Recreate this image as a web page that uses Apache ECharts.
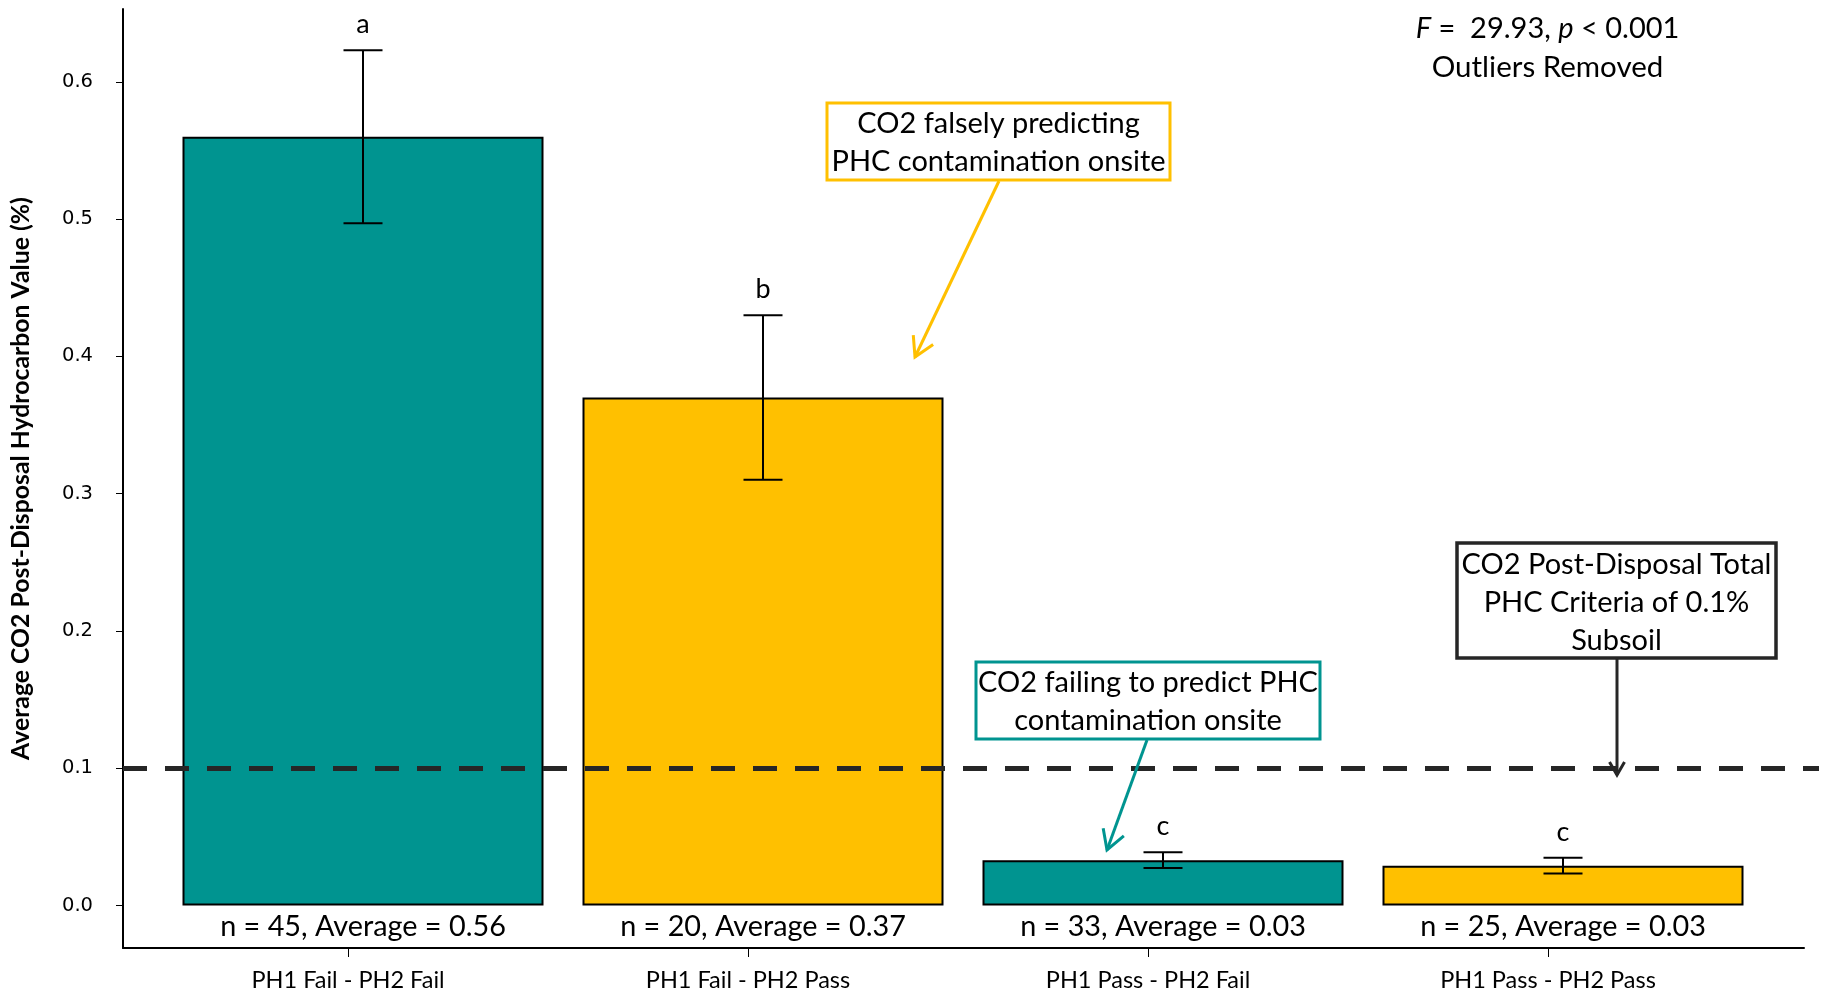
<!DOCTYPE html>
<html>
<head>
<meta charset="utf-8">
<script src="https://cdn.jsdelivr.net/npm/echarts@6/dist/echarts.min.js"></script>
<style>
  html, body { margin: 0; padding: 0; background: #fff; }
  #chart { width: 1831px; height: 995px; }
</style>
</head>
<body>
<div id="chart"></div>
<script>
// ---- Data ----
const categories = ['PH1 Fail - PH2 Fail', 'PH1 Fail - PH2 Pass', 'PH1 Pass - PH2 Fail', 'PH1 Pass - PH2 Pass'];
const means = [0.56, 0.37, 0.033, 0.029];
const errors = [0.063, 0.06, 0.0058, 0.0058];
const nCounts = [45, 20, 33, 25];
const letters = ['a', 'b', 'c', 'c'];
const barColors = ['#009490', '#FFC000', '#009490', '#FFC000'];
const threshold = 0.1;
const yTicks = [0, 0.1, 0.2, 0.3, 0.4, 0.5, 0.6];
const yMin = -0.031;
const yMax = 0.653;

const FONT = 'Lato, "Open Sans", sans-serif';
const chart = echarts.init(document.getElementById('chart'), null, { renderer: 'canvas' });

function arrow(x1, y1, x2, y2, color, width, headLen) {
  const dx = x1 - x2, dy = y1 - y2;
  const len = Math.sqrt(dx * dx + dy * dy);
  const ux = dx / len, uy = dy / len;
  const a = Math.PI / 6;
  const p1 = [x2 + headLen * (ux * Math.cos(a) - uy * Math.sin(a)), y2 + headLen * (ux * Math.sin(a) + uy * Math.cos(a))];
  const p2 = [x2 + headLen * (ux * Math.cos(-a) - uy * Math.sin(-a)), y2 + headLen * (ux * Math.sin(-a) + uy * Math.cos(-a))];
  return [
    { type: 'line', shape: { x1: x1, y1: y1, x2: x2, y2: y2 }, style: { stroke: color, lineWidth: width } },
    { type: 'polyline', shape: { points: [p1, [x2, y2], p2] }, style: { stroke: color, lineWidth: width, fill: null } }
  ];
}

const yHidden = (gi) => ({ gridIndex: gi, type: 'value', min: yMin, max: yMax, show: false });

const option = {
  backgroundColor: '#fff',
  animation: false,
  grid: [
    { left: 123, right: 27, top: 9, bottom: 47 },
    { left: 148, width: 1600, top: 9, bottom: 47 },
    { left: 163, width: 1600, top: 9, bottom: 47 },
    { left: 123, right: 12, top: 9, bottom: 47 }
  ],
  xAxis: [
    { gridIndex: 0, type: 'value', min: 0, max: 1,
      axisLine: { show: true, onZero: false, lineStyle: { color: '#000', width: 2 } },
      axisTick: { show: false }, axisLabel: { show: false }, splitLine: { show: false } },
    { gridIndex: 1, type: 'category', data: categories,
      axisLine: { show: false, onZero: false },
      axisTick: { show: true, alignWithLabel: true, length: 9, lineStyle: { color: '#000', width: 1 } },
      axisLabel: { fontFamily: FONT, fontSize: 23.5, color: '#000', margin: 20 },
      splitLine: { show: false } },
    { gridIndex: 2, type: 'category', data: categories, show: false },
    { gridIndex: 3, type: 'value', min: 0, max: 1, show: false }
  ],
  yAxis: [
    { gridIndex: 0, type: 'value', min: yMin, max: yMax,
      name: 'Average CO2 Post-Disposal Hydrocarbon Value (%)',
      nameLocation: 'middle', nameRotate: 90, nameGap: 89,
      nameTextStyle: { fontFamily: FONT, fontWeight: 'bold', fontSize: 24.8, color: '#000' },
      axisLine: { show: true, onZero: false, lineStyle: { color: '#000', width: 2 } },
      axisTick: { show: true, length: 7, customValues: yTicks, lineStyle: { color: '#000', width: 1 } },
      axisLabel: { customValues: yTicks, formatter: (v) => v.toFixed(1), fontFamily: '"DejaVu Sans", sans-serif', fontSize: 19.5, color: '#000', margin: 30 },
      splitLine: { show: false } },
    yHidden(1), yHidden(2), yHidden(3)
  ],
  series: [
    {
      type: 'bar', xAxisIndex: 2, yAxisIndex: 2, barWidth: 361, silent: true,
      data: means.map((v, i) => ({ value: v, itemStyle: { color: barColors[i] } })),
      itemStyle: { borderColor: '#000', borderWidth: 2 },
      label: {
        show: true, position: 'bottom', distance: 7,
        formatter: (p) => 'n = ' + nCounts[p.dataIndex] + ', Average = ' + p.value.toFixed(2),
        fontFamily: FONT, fontSize: 28.8, color: '#000'
      },
      z: 2
    },
    {
      type: 'custom', xAxisIndex: 2, yAxisIndex: 2, silent: true, z: 5,
      data: means.map((m, i) => [i, m - errors[i], m + errors[i]]),
      renderItem: function (params, api) {
        const lo = api.coord([api.value(0), api.value(1)]);
        const hi = api.coord([api.value(0), api.value(2)]);
        const cw = 19.5;
        const st = { stroke: '#000', lineWidth: 2 };
        return {
          type: 'group',
          children: [
            { type: 'line', shape: { x1: hi[0], y1: hi[1], x2: lo[0], y2: lo[1] }, style: st },
            { type: 'line', shape: { x1: hi[0] - cw, y1: hi[1], x2: hi[0] + cw, y2: hi[1] }, style: st },
            { type: 'line', shape: { x1: lo[0] - cw, y1: lo[1], x2: lo[0] + cw, y2: lo[1] }, style: st },
            { type: 'text', style: { text: letters[params.dataIndex], x: hi[0], y: hi[1] - 12,
              align: 'center', verticalAlign: 'bottom', font: '27px ' + FONT, fill: '#000' } }
          ]
        };
      }
    },
    {
      type: 'line', xAxisIndex: 3, yAxisIndex: 3, data: [], silent: true, z: 10,
      markLine: {
        silent: true, symbol: ['none', 'none'], label: { show: false },
        lineStyle: { type: [24, 18], color: '#262626', width: 5 },
        data: [{ yAxis: threshold }]
      }
    }
  ],
  graphic: [].concat(
    [
      { type: 'text', x: 1547.5, y: 29, z: 20,
        style: { text: '{i|F} =  29.93, {i|p} < 0.001', align: 'center', verticalAlign: 'middle',
          font: '29px ' + FONT, fill: '#000',
          rich: { i: { fontStyle: 'italic', fontSize: 29, fontFamily: FONT, fill: '#000' } } } },
      { type: 'text', x: 1547.5, y: 67, z: 20,
        style: { text: 'Outliers Removed', align: 'center', verticalAlign: 'middle', font: '29.5px ' + FONT, fill: '#000' } },

      { type: 'rect', z: 20, shape: { x: 827, y: 103, width: 343, height: 77 }, style: { fill: '#fff', stroke: '#FFC000', lineWidth: 3 } },
      { type: 'text', z: 21, x: 998.5, y: 143,
        style: { text: 'CO2 falsely predicting\nPHC contamination onsite', align: 'center', verticalAlign: 'middle',
          font: '29px ' + FONT, lineHeight: 38, fill: '#000' } },

      { type: 'rect', z: 20, shape: { x: 976, y: 662, width: 344, height: 77 }, style: { fill: '#fff', stroke: '#009490', lineWidth: 3 } },
      { type: 'text', z: 21, x: 1148, y: 702,
        style: { text: 'CO2 failing to predict PHC\ncontamination onsite', align: 'center', verticalAlign: 'middle',
          font: '29px ' + FONT, lineHeight: 38, fill: '#000' } },

      { type: 'rect', z: 20, shape: { x: 1457, y: 543, width: 319, height: 115 }, style: { fill: '#fff', stroke: '#262626', lineWidth: 3.5 } },
      { type: 'text', z: 21, x: 1616.5, y: 603,
        style: { text: 'CO2 Post-Disposal Total\nPHC Criteria of 0.1%\nSubsoil', align: 'center', verticalAlign: 'middle',
          font: '29px ' + FONT, lineHeight: 38, fill: '#000' } }
    ],
    arrow(999, 181, 915, 357, '#FFC000', 3, 22).map(e => Object.assign(e, { z: 20 })),
    arrow(1147, 740, 1107, 850, '#009490', 3, 22).map(e => Object.assign(e, { z: 20 })),
    arrow(1617, 659, 1617, 775, '#262626', 3, 15).map(e => Object.assign(e, { z: 20 }))
  )
};

chart.setOption(option);
</script>
</body>
</html>
